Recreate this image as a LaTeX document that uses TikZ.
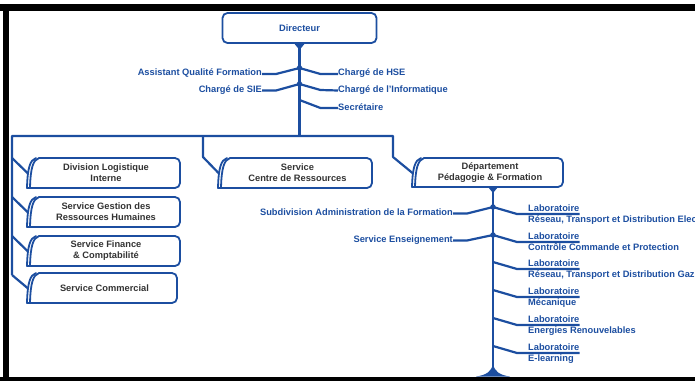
\documentclass[tikz,border=0pt]{standalone}
\usepackage{fontspec}
\setmainfont{Liberation Sans}
\definecolor{orgblue}{RGB}{28,78,160}
\definecolor{boxtxt}{RGB}{51,51,51}
\tikzset{
  conn/.style={draw=orgblue, line width=2.2pt, line join=round},
  boxline/.style={draw=orgblue, line width=1.8pt, line cap=round},
  boxtext/.style={font=\fontsize{9.3}{11}\selectfont\bfseries, text=boxtxt, align=center, inner sep=0pt},
  lbl/.style={font=\fontsize{9.3}{11}\selectfont\bfseries, text=orgblue, inner sep=0pt},
  jdot/.style={circle, fill=orgblue, inner sep=0pt, minimum size=5.5pt},
}
\newcommand\tabbox[6]{%
  \draw[boxline, rounded corners=5pt] (#2+9,#3) -- (#4,#3) -- (#4,#5) -- (#2-3,#5);
  \draw[boxline] (#2,#5) .. controls (#2+0.5,#3+10) and (#2+3,#3+2) .. (#2+9,#3);
  \draw[boxline] (#2-3,#5) .. controls (#2-2.5,#3+10) and (#2,#3+2) .. (#2+6,#3);
  \node[boxtext] (#1) at ({(#2+#4)/2+1},{(#3+#5)/2}) {#6};
  \coordinate (#1-in) at (#2-2.5,#3+15);
}
\begin{document}
\begin{tikzpicture}[x=1pt,y=-1pt]
\path[use as bounding box] (0,0) rectangle (695,381);
\clip (0,0) rectangle (695,381);
% frame
\fill[black] (0,4) rectangle (695,10.5);
\fill[black] (3,4) rectangle (9,381);
\fill[black] (0,377) rectangle (695,381);

% Directeur
\node[draw=orgblue, line width=1.8pt, rounded corners=5pt, minimum width=154pt, minimum height=30pt, lbl] (dir) at (299.5,28) {Directeur};
\fill[orgblue] ([xshift=-5pt]dir.south) -- ([xshift=5pt]dir.south) -- ([yshift=-6pt]dir.south) -- cycle;

% trunk and junctions
\coordinate (bus) at (299.5,136);
\draw[conn] (dir.south) -- (bus);
\node[jdot] (j1) at (299.5,68) {};
\node[jdot] (j2) at (299.5,84) {};
\coordinate (j3) at (299.5,100);

\node[lbl, anchor=base east] (aqf) at (262,75.5) {Assistant Qualité Formation};
\node[lbl, anchor=base west] (hse) at (338,75.5) {Chargé de HSE};
\node[lbl, anchor=base east] (sie) at (262,92.5) {Chargé de SIE};
\node[lbl, anchor=base west] (inf) at (338,92.5) {Chargé de l'Informatique};
\node[lbl, anchor=base west] (sec) at (338,110) {Secrétaire};

\draw[conn] ([yshift=1.5pt]aqf.base east) -- ++(14,0) -- (j1.center);
\draw[conn] (j1.center) -- ++(21,6) -- ([yshift=1.5pt]hse.base west);
\draw[conn] ([yshift=2pt]sie.base east) -- ++(14,0) -- (j2.center);
\draw[conn] (j2.center) -- ++(21,6) -- ([yshift=2pt]inf.base west);
\draw[conn] (j3) -- ++(21,8) -- ([yshift=2pt]sec.base west);

% boxes
\tabbox{dli}{30}{158}{180}{188}{Division Logistique\\Interne}
\tabbox{grh}{30}{197}{180}{227}{Service Gestion des\\Ressources Humaines}
\tabbox{sfc}{30}{236}{180}{266}{Service Finance\\\& Comptabilité}
\tabbox{sco}{30}{273}{177}{303}{Service Commercial}
\tabbox{scr}{221}{158}{372}{188}{Service\\Centre de Ressources}
\tabbox{dpf}{415}{158}{563}{187}{Département\\Pédagogie \& Formation}

% bus
\coordinate (busL) at (12,136);
\coordinate (busR) at (393,136);
\coordinate (bL1) at (12,158);
\coordinate (bL2) at (12,197);
\coordinate (bL3) at (12,236);
\coordinate (bL4) at (12,275);
\coordinate (bC) at (203,136);
\coordinate (bCt) at (203,157);
\coordinate (bRt) at (393,157);
\draw[conn] (bL4) -- (busL) -- (busR) -- (bRt) -- (dpf-in);
\draw[conn] (bC) -- (bCt) -- (scr-in);
\draw[conn] (bL1) -- (dli-in);
\draw[conn] (bL2) -- (grh-in);
\draw[conn] (bL3) -- (sfc-in);
\draw[conn] (bL4) -- (sco-in);

% department trunk
\coordinate (dtop) at (493,187);
\coordinate (dbot) at (493,376);
\draw[conn] (dtop) -- (dbot);
\fill[orgblue] ([xshift=-5pt]dtop) -- ([xshift=5pt]dtop) -- ([yshift=-6pt]dtop) -- cycle;
\fill[orgblue] (476,376.5) .. controls (487,375) and (491,371) .. (493,365) .. controls (495,371) and (499,375) .. (510,376.5) -- cycle;

\node[jdot] (k1) at (493,207) {};
\node[jdot] (k2) at (493,235) {};
\coordinate (k3) at (493,262);
\coordinate (k4) at (493,290);
\coordinate (k5) at (493,318);
\coordinate (k6) at (493,346);

\node[lbl, anchor=base east] (sadf) at (453,215.5) {Subdivision Administration de la Formation};
\node[lbl, anchor=base east] (sens) at (453,242.5) {Service Enseignement};
\draw[conn] ([yshift=2pt]sadf.base east) -- ++(14,0) -- (k1.center);
\draw[conn] ([yshift=2pt]sens.base east) -- ++(14,0) -- (k2.center);

\node[lbl, anchor=base west] (lab1) at (528,211.3) {Laboratoire};
\node[lbl, anchor=base west] (lab1d) at (528,222.3) {Réseau, Transport et Distribution Elec};
\node[lbl, anchor=base west] (lab2) at (528,239.3) {Laboratoire};
\node[lbl, anchor=base west] (lab2d) at (528,250.3) {Contrôle Commande et Protection};
\node[lbl, anchor=base west] (lab3) at (528,266.3) {Laboratoire};
\node[lbl, anchor=base west] (lab3d) at (528,277.3) {Réseau, Transport et Distribution Gaz};
\node[lbl, anchor=base west] (lab4) at (528,294.3) {Laboratoire};
\node[lbl, anchor=base west] (lab4d) at (528,305.3) {Mécanique};
\node[lbl, anchor=base west] (lab5) at (528,322.3) {Laboratoire};
\node[lbl, anchor=base west] (lab5d) at (528,333.3) {Energies Renouvelables};
\node[lbl, anchor=base west] (lab6) at (528,350.3) {Laboratoire};
\node[lbl, anchor=base west] (lab6d) at (528,361.3) {E-learning};

\draw[conn] (k1.center) -- ++(24,7) -- ([yshift=-2.7pt]lab1.base east);
\draw[conn] (k2.center) -- ++(24,7) -- ([yshift=-2.7pt]lab2.base east);
\draw[conn] (k3) -- ++(24,7) -- ([yshift=-2.7pt]lab3.base east);
\draw[conn] (k4) -- ++(24,7) -- ([yshift=-2.7pt]lab4.base east);
\draw[conn] (k5) -- ++(24,7) -- ([yshift=-2.7pt]lab5.base east);
\draw[conn] (k6) -- ++(24,7) -- ([yshift=-2.7pt]lab6.base east);
\end{tikzpicture}
\end{document}
